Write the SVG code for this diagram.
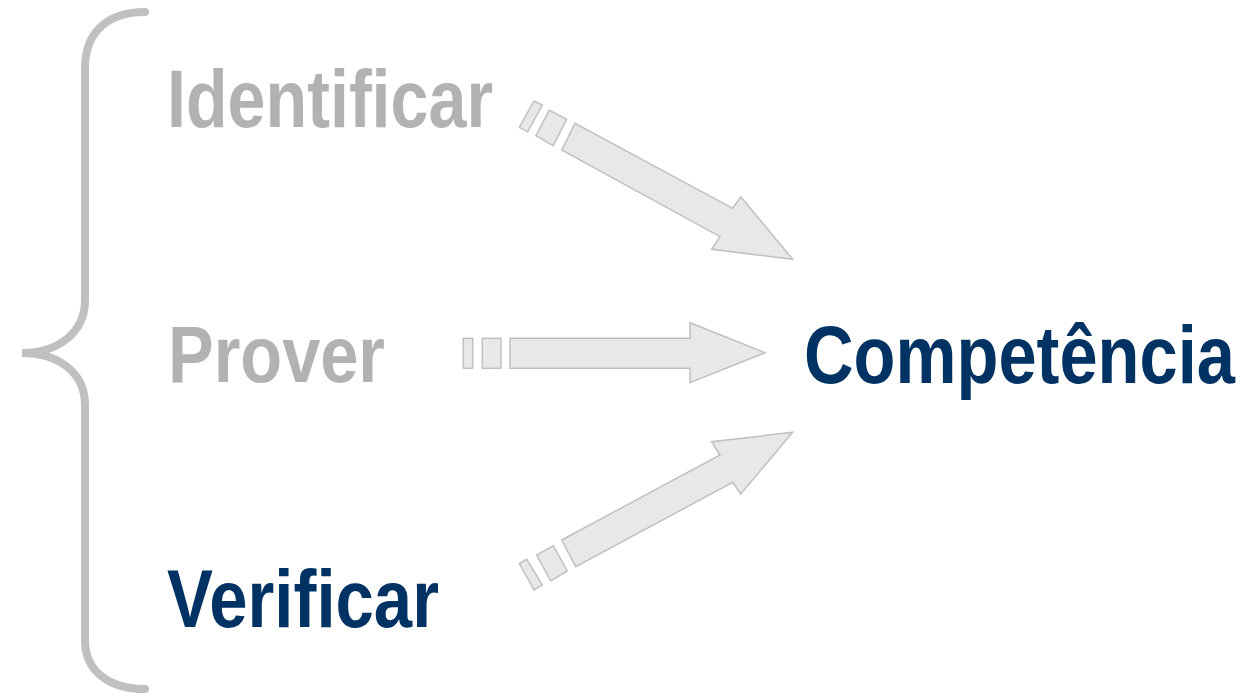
<svg xmlns="http://www.w3.org/2000/svg" width="1252" height="696" viewBox="0 0 1252 696">
<style>
.t{font-family:"Liberation Sans",Arial,sans-serif;font-weight:bold}
.g{fill:#b2b2b2}
.b{fill:#003263}
.a{fill:#e8e8e8;stroke:#c0c0c0;stroke-width:1.5;stroke-linejoin:miter}
.br{fill:none;stroke:#c0c0c0;stroke-width:8;stroke-linecap:round}
</style>
<rect width="1252" height="696" fill="#ffffff"/>
<g id="brace">
<path class="br" d="M145,12 C110,12 85,30 85,68 L85,300 C85,335 55,353 22,353 C55,353 85,370 85,405 L85,640 C85,672 110,689 145,689"/>
</g>
<g id="connectors">
<g id="arrow-identificar">
<polygon class="a" points="519.3,127.3 534,101 542.3,105 527.7,131.7"/>
<polygon class="a" points="536,135.7 549.3,110 566.7,119.3 553.3,145.7"/>
<polygon class="a" points="561.7,150 575,123.3 732.7,208.3 740.7,196.7 792.7,259.3 711.7,249.3 720,236.7"/>
</g>
<g id="arrow-prover">
<rect class="a" x="463.3" y="338.3" width="9.4" height="30"/>
<rect class="a" x="482.3" y="338.3" width="18.7" height="30"/>
<polygon class="a" points="510,338.3 690,338.3 690,322.7 765,352.7 690,382.7 690,368.3 510,368.3"/>
</g>
<g id="arrow-verificar">
<polygon class="a" points="519.3,563.3 526.7,559.3 542.3,585 534,590"/>
<polygon class="a" points="536.7,555 553.3,545.7 567.3,571 550.7,581"/>
<polygon class="a" points="561.7,540 720,455 711.7,441.7 792.7,432.3 740.7,494 732.7,482.3 575.7,566.7"/>
</g>
</g>
<g id="identificar"><text class="t g" x="167" y="127" font-size="82" textLength="326" lengthAdjust="spacingAndGlyphs">Identificar</text></g>
<g id="prover"><text class="t g" x="168" y="382" font-size="79" textLength="217" lengthAdjust="spacingAndGlyphs">Prover</text></g>
<g id="verificar"><text class="t b" x="167" y="627" font-size="82" textLength="272" lengthAdjust="spacingAndGlyphs">Verificar</text></g>
<g id="competencia" transform="translate(804,383) scale(0.837,1)"><text class="t b" x="0" y="0" font-size="82">Competência</text></g>
</svg>
